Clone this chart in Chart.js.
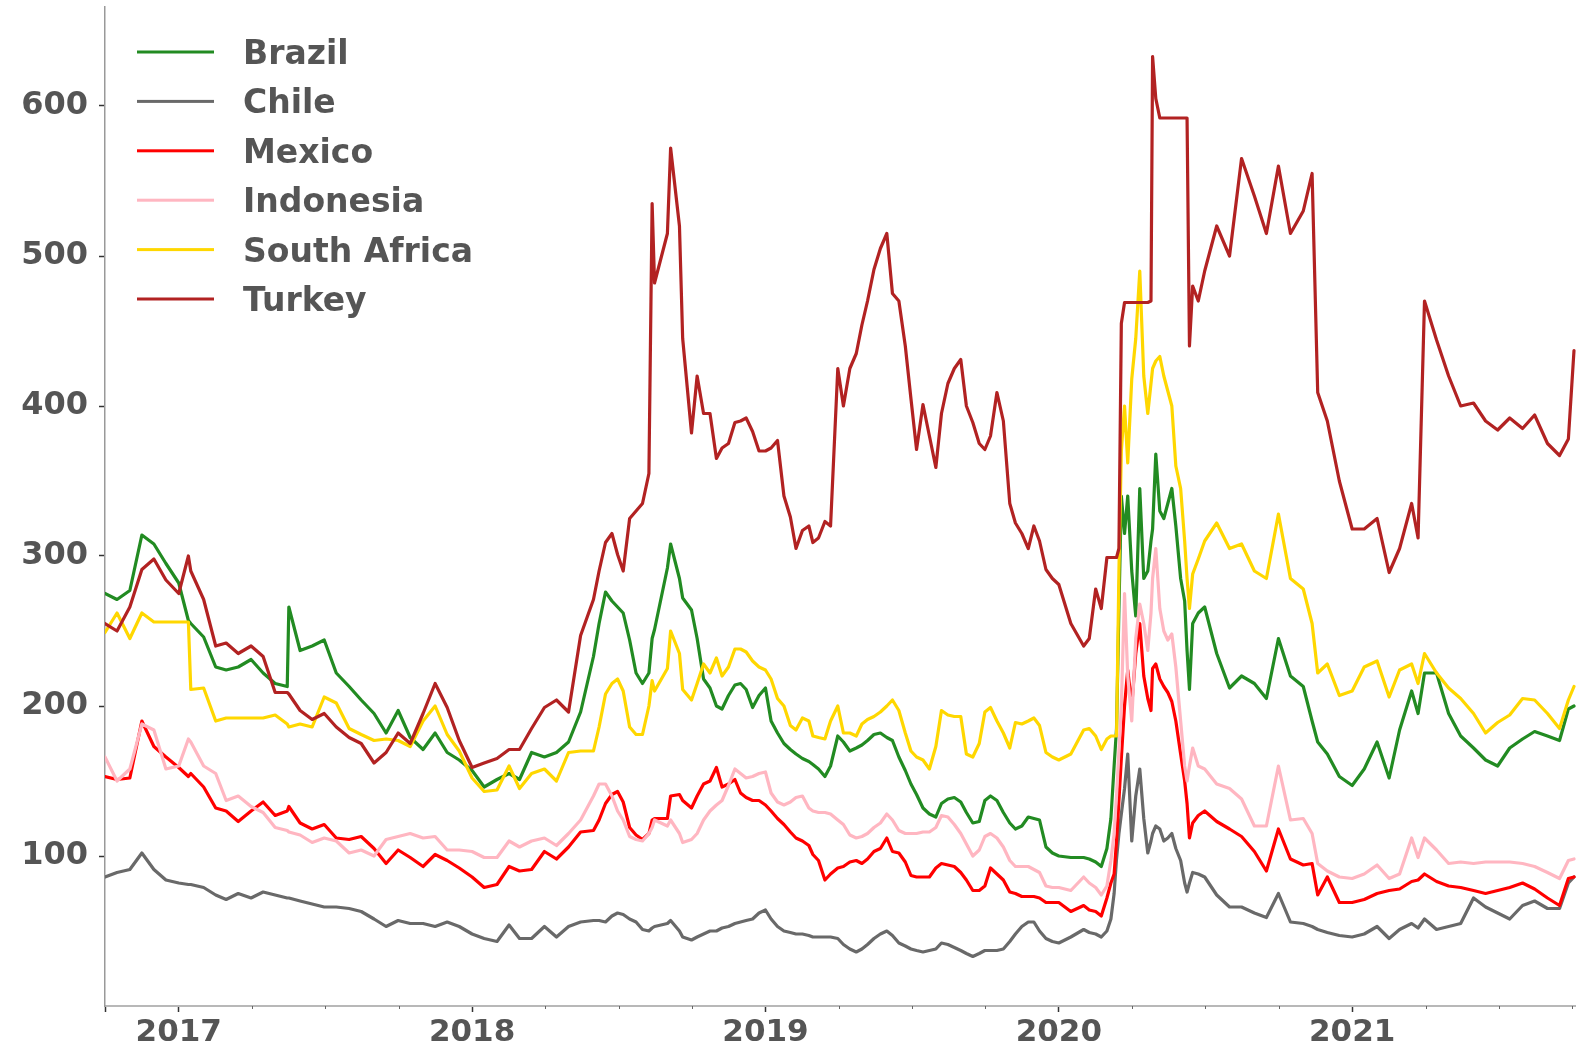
<!DOCTYPE html>
<html>
<head>
<meta charset="utf-8">
<script src="https://cdn.jsdelivr.net/npm/chart.js@4.4.1/dist/chart.umd.min.js"></script>
<style>
  html, body { margin: 0; padding: 0; background: #ffffff; }
  #wrap { width: 1576px; height: 1048px; }
</style>
</head>
<body>
<div id="wrap"><canvas id="c" width="1576" height="1048"></canvas></div>
<script>
// ---------------- DATA ----------------
const dates = [
  // 2016 (6)
  '2016-10-01','2016-10-16','2016-11-01','2016-11-16','2016-12-01','2016-12-16',
  // 2017 (26)
  '2017-01-01','2017-01-13','2017-01-16','2017-02-01','2017-02-16','2017-03-01','2017-03-16','2017-04-01','2017-04-16',
  '2017-05-01','2017-05-16','2017-05-18','2017-06-01','2017-06-16','2017-07-01','2017-07-16','2017-08-01','2017-08-16',
  '2017-09-01','2017-09-16','2017-10-01','2017-10-16','2017-11-01','2017-11-16','2017-12-01','2017-12-16',
  // 2018 (38)
  '2018-01-01','2018-01-16','2018-02-01','2018-02-16','2018-03-01','2018-03-16','2018-04-01','2018-04-16','2018-05-01','2018-05-16',
  '2018-06-01','2018-06-08','2018-06-16','2018-06-24','2018-07-01','2018-07-08','2018-07-16','2018-07-24',
  '2018-08-01','2018-08-09','2018-08-13','2018-08-16','2018-09-01','2018-09-05','2018-09-16','2018-09-20',
  '2018-10-01','2018-10-08','2018-10-16','2018-10-24','2018-11-01','2018-11-08','2018-11-16','2018-11-24',
  '2018-12-01','2018-12-08','2018-12-16','2018-12-24',
  // 2019 (48)
  '2019-01-01','2019-01-08','2019-01-16','2019-01-24','2019-02-01','2019-02-08','2019-02-16','2019-02-24',
  '2019-03-01','2019-03-08','2019-03-16','2019-03-23','2019-04-01','2019-04-08','2019-04-16','2019-04-24',
  '2019-05-01','2019-05-08','2019-05-16','2019-05-24','2019-06-01','2019-06-08','2019-06-16','2019-06-24',
  '2019-07-01','2019-07-08','2019-07-16','2019-07-24','2019-08-01','2019-08-08','2019-08-16','2019-08-24',
  '2019-09-01','2019-09-08','2019-09-16','2019-09-24','2019-10-01','2019-10-08','2019-10-16','2019-10-24',
  '2019-11-01','2019-11-08','2019-11-16','2019-11-24','2019-12-01','2019-12-08','2019-12-16','2019-12-24',
  // 2020 (46)
  '2020-01-01','2020-01-16','2020-02-01','2020-02-08','2020-02-16','2020-02-23','2020-03-01','2020-03-06',
  '2020-03-10','2020-03-13','2020-03-16','2020-03-19','2020-03-23','2020-03-27','2020-04-01','2020-04-06',
  '2020-04-11','2020-04-16','2020-04-21','2020-04-25','2020-04-27','2020-05-01','2020-05-06','2020-05-11',
  '2020-05-16','2020-05-21','2020-05-26','2020-06-01','2020-06-06','2020-06-09','2020-06-12','2020-06-16',
  '2020-06-23','2020-07-01','2020-07-16','2020-08-01','2020-08-16','2020-09-01','2020-09-16','2020-10-01',
  '2020-10-16','2020-11-01','2020-11-12','2020-11-19','2020-12-01','2020-12-16',
  // 2021 (21)
  '2021-01-01','2021-01-16','2021-02-01','2021-02-16','2021-03-01','2021-03-16','2021-03-24','2021-04-01',
  '2021-04-16','2021-05-01','2021-05-16','2021-06-01','2021-06-16','2021-07-01','2021-07-16','2021-08-01',
  '2021-08-16','2021-09-01','2021-09-16','2021-09-27','2021-10-04'
];

const brazil = [
  275,271,277,314,308,295,
  282,257,255,246,226,224,226,231,222,215,213,266,237,240,244,222,213,204,195,182,197,179,171,182,169,164,
  157,146,151,155,151,169,166,169,176,196,
  233,255,276,270,266,262,244,222,
  215,222,245,251,292,308,285,272,
  264,245,218,212,200,198,207,214,
  215,211,199,207,
  212,190,182,175, 171,168,165,163, 161,158,153,160, 180,176,170,172, 174,177,181,182, 179,177,166,157,
  148,141,132,128, 126,135,138,139, 136,129,122,123, 137,140,137,129, 122,118,120,126, 125,124,106,102,
  100,99,99,98,96,93,105,125,160,185,265,340,315,340,290,260,345,285,290,310,318,368,330,325,335,345,320,285,270,237,
  211,255,262,266,235,212,220,215,205,245,220,213,190,176,168,153,
  147,158,176,152,184,210,195,222,222,195,180,172,164,160,172,178,183,180,177,198,200
];

const chile = [
  86,89,91,102,91,84,
  82,81,81,79,74,71,75,72,76,74,72,72,70,68,66,66,65,63,58,53,57,55,55,53,56,53,
  48,45,43,54,45,45,53,46,53,56,
  57,57,56,60,62,61,58,56,
  51,50,52,53,55,57,50,46,
  44,46,48,50,50,52,53,55,
  56,57,58,62,
  64,58,53,50, 49,48,48,47, 46,46,46,46, 45,41,38,36, 38,41,45,48, 50,47,42,40,
  38,37,36,37, 38,42,41,39, 37,35,33,35, 37,37,37,38, 43,48,53,56, 56,50,45,43,
  42,46,51,49,48,46,50,58,75,98,115,128,145,168,110,140,158,125,102,110,115,120,118,110,112,115,105,97,82,76,
  82,89,88,86,74,66,66,62,59,75,56,55,53,51,49,47,
  46,48,53,45,51,55,52,58,51,53,55,72,66,62,58,67,70,65,65,82,86
];

const mexico = [
  153,151,152,190,173,166,
  159,153,155,146,132,130,123,130,136,127,130,133,122,118,121,112,111,113,105,95,104,99,93,101,97,92,
  86,79,81,93,90,91,103,98,106,116,
  117,124,135,141,143,136,119,114,
  111,115,124,125,125,140,141,137,
  132,140,148,150,159,146,148,151,
  142,139,137,137,
  134,130,125,121, 116,112,110,107, 101,97,84,88, 92,93,96,97, 95,98,103,105, 112,103,102,96,
  87,86,86,86, 92,95,94,93, 89,84,77,77, 80,92,88,84, 76,75,73,73, 73,72,69,69,
  69,63,67,64,63,60,72,82,88,110,137,165,200,224,200,235,255,220,205,197,225,228,218,213,209,203,190,168,150,135,
  112,122,127,130,123,118,113,103,90,118,98,94,95,74,86,69,
  69,71,75,77,78,83,84,88,83,80,79,77,75,77,79,82,78,72,67,85,86
];

const indonesia = [
  166,150,158,188,184,158,
  160,178,176,160,155,137,140,133,129,119,117,116,114,109,112,110,102,104,100,111,113,115,112,113,104,104,
  103,99,99,110,106,110,112,107,115,124,
  140,148,148,140,130,124,113,111,
  110,115,119,124,120,124,115,109,
  111,115,124,130,134,137,147,158,
  155,152,153,155,
  156,142,136,134, 136,139,140,132, 130,129,129,128, 124,121,114,112, 113,115,119,122, 128,124,117,115,
  115,115,116,116, 119,127,126,121, 115,108,100,104, 113,115,112,106, 97,93,93,93, 91,89,80,79,
  79,77,86,82,79,74,80,97,115,140,170,200,275,220,190,245,268,255,237,262,285,305,265,250,244,248,226,190,160,150,
  160,172,160,158,148,145,138,120,120,160,124,125,115,95,90,86,
  85,88,94,85,88,112,99,112,104,95,96,95,96,96,96,95,93,89,85,97,98
];

const southAfrica = [
  249,262,245,262,256,256,
  256,256,211,212,190,192,192,192,192,194,188,186,188,186,206,202,185,181,177,178,177,173,190,200,181,170,
  152,143,144,160,145,155,158,150,169,170,
  170,186,208,215,218,210,186,181,
  181,200,217,210,225,250,235,211,
  204,215,228,222,232,220,226,238,
  238,236,230,226,
  224,218,205,200, 187,184,192,190, 180,179,178,190, 200,182,182,180, 188,191,193,196, 200,204,197,182,
  170,166,164,158, 173,197,194,193, 193,168,166,175, 196,199,190,182, 172,189,188,190, 192,187,169,166,
  164,168,184,185,180,171,178,180,180,180,290,370,400,362,418,445,490,420,395,415,425,430,433,420,410,400,360,345,310,285,
  265,288,298,310,322,305,308,290,285,328,285,278,255,222,228,207,
  210,226,230,206,224,228,215,235,222,212,205,195,182,189,194,205,204,195,185,204,213
];

const turkey = [
  255,250,266,291,298,284,
  275,300,290,271,240,242,235,240,233,209,209,208,197,191,195,186,179,175,162,169,182,175,195,215,199,177,
  159,162,165,171,171,185,199,204,196,247,
  271,290,309,315,301,290,325,330,
  335,355,535,482,515,572,520,445,
  382,420,395,395,365,372,375,389,
  390,392,383,370,
  370,372,377,340, 326,305,317,320, 309,312,323,320, 425,400,425,435, 454,470,491,505, 515,475,470,440,
  405,371,401,380, 359,395,415,425, 431,400,389,375, 371,380,409,390, 335,322,315,305, 320,310,291,285,
  281,255,240,245,278,265,299,299,299,299,305,455,469,469,469,469,469,469,469,470,633,605,592,592,592,592,592,592,592,592,
  440,480,470,490,520,500,565,540,515,560,515,530,555,409,390,350,
  318,318,325,289,305,335,312,470,444,420,400,402,390,384,392,385,394,375,367,378,437
];

const seriesNames  = ['Brazil', 'Chile', 'Mexico', 'Indonesia', 'South Africa', 'Turkey'];
const seriesValues = [brazil, chile, mexico, indonesia, southAfrica, turkey];
const seriesColors = ['#228B22', '#696969', '#FF0000', '#FFB6C1', '#FFD700', '#B22222'];
const yTickValues  = [100, 200, 300, 400, 500, 600];
const xTickYears   = [2017, 2018, 2019, 2020, 2021];

// ---------------- HELPERS ----------------
function toDecimalYear(s) {
  const [y, m, d] = s.split('-').map(Number);
  const start = Date.UTC(y, 0, 1), end = Date.UTC(y + 1, 0, 1);
  return y + (Date.UTC(y, m - 1, d) - start) / (end - start);
}
const xValues = dates.map(toDecimalYear);

const TEXT = '#555555';
const FONT = 'DejaVu Sans';

const insideLegend = {
  id: 'insideLegend',
  afterDatasetsDraw(chart) {
    const ctx = chart.ctx;
    ctx.save();
    ctx.font = 'bold 33px "' + FONT + '"';
    ctx.textBaseline = 'alphabetic';
    ctx.textAlign = 'left';
    seriesNames.forEach((name, i) => {
      const y = 52 + i * 49.4;
      ctx.fillStyle = seriesColors[i];
      ctx.fillRect(137, y - 1.5, 77, 3);
      ctx.fillStyle = TEXT;
      ctx.fillText(name, 243, y + 12);
    });
    ctx.restore();
  }
};

const minorTicks = {
  id: 'minorTicks',
  afterDraw(chart) {
    const xs = chart.scales.x;
    const ctx = chart.ctx;
    ctx.save();
    ctx.strokeStyle = '#666';
    ctx.lineWidth = 1;
    const start = Math.ceil(xs.min * 4) / 4;
    for (let q = start; q <= xs.max + 1e-9; q += 0.25) {
      if (Math.abs(q - Math.round(q)) < 1e-6) continue;
      if (Math.abs(q - 2016.75) < 1e-6) continue;
      const px = Math.round(xs.getPixelForValue(q)) + 0.5;
      ctx.beginPath();
      ctx.moveTo(px, xs.top);
      ctx.lineTo(px, xs.top + 3);
      ctx.stroke();
    }
    ctx.restore();
  }
};

const datasets = seriesNames.map((name, i) => ({
  label: name,
  data: xValues.map((x, j) => ({ x: x, y: seriesValues[i][j] })),
  borderColor: seriesColors[i],
  backgroundColor: seriesColors[i],
  borderWidth: 3.2,
  pointRadius: 0,
  pointHoverRadius: 0,
  tension: 0,
  fill: false,
  borderJoinStyle: 'round',
  borderCapStyle: 'round',
  order: seriesNames.length - 1 - i
}));

Chart.defaults.font.family = FONT;

new Chart(document.getElementById('c'), {
  type: 'line',
  data: { datasets },
  options: {
    responsive: false,
    animation: false,
    devicePixelRatio: 1,
    layout: { padding: { top: 7, right: 0, left: 0, bottom: 0 } },
    plugins: {
      legend: { display: false },
      tooltip: { enabled: false },
      title: { display: false }
    },
    scales: {
      x: {
        type: 'linear',
        min: toDecimalYear('2016-10-01'),
        max: 2021.763,
        afterBuildTicks: (axis) => {
          axis.ticks = [2016.75].concat(xTickYears).map(v => ({ value: v }));
        },
        afterFit: (scale) => {
          scale.height = 42;
          scale.paddingLeft = 0; scale.paddingRight = 0;
          scale.paddingTop = 0; scale.paddingBottom = 0;
        },
        border: { display: true, color: '#b8b8b8', width: 2 },
        grid: { display: true, drawOnChartArea: false, drawTicks: true, tickLength: 6, tickColor: '#333', tickWidth: 1.5 },
        ticks: {
          autoSkip: false,
          maxRotation: 0,
          padding: 2,
          color: TEXT,
          font: { family: FONT, size: 31, weight: 'bold' },
          callback: (v) => Number.isInteger(v) ? String(v) : ''
        }
      },
      y: {
        type: 'linear',
        min: 0,
        max: 666,
        afterBuildTicks: (axis) => {
          axis.ticks = yTickValues.map(v => ({ value: v }));
        },
        afterFit: (scale) => {
          scale.width = 105;
          scale.paddingLeft = 0; scale.paddingRight = 0;
          scale.paddingTop = 0; scale.paddingBottom = 0;
        },
        border: { display: true, color: '#999', width: 1.5 },
        grid: { display: true, drawOnChartArea: false, drawTicks: true, tickLength: 6, tickColor: '#333', tickWidth: 1.5 },
        ticks: {
          padding: 11,
          color: TEXT,
          font: { family: FONT, size: 32, weight: 'bold' },
          callback: (v) => String(v)
        }
      }
    }
  },
  plugins: [insideLegend, minorTicks]
});
</script>
</body>
</html>
